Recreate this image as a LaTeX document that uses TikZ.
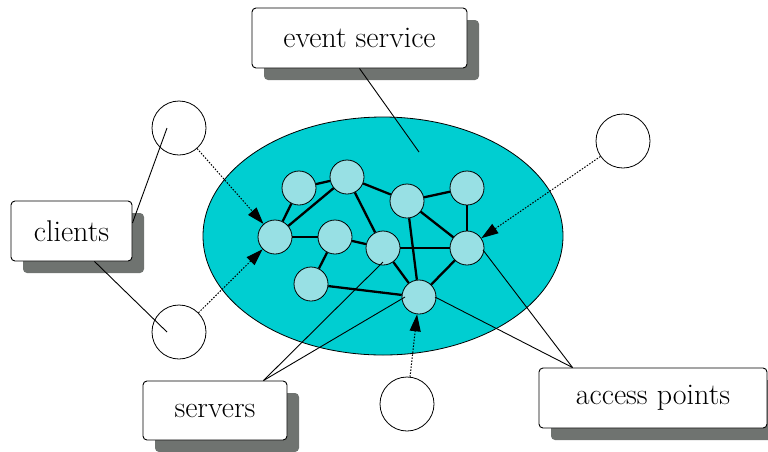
\documentclass[tikz,border=0pt]{standalone}
\usepackage{fontspec}
\usetikzlibrary{arrows.meta,shadows,calc,shapes.geometric}
\definecolor{ellfill}{RGB}{0,206,209}
\definecolor{nodefill}{RGB}{152,224,228}
\definecolor{shadowgray}{RGB}{111,115,112}
\pgfdeclarelayer{cloudlayer}
\pgfdeclarelayer{edgelayer}
\pgfsetlayers{cloudlayer,edgelayer,main}
\begin{document}
\begin{tikzpicture}[x=1pt,y=-1pt,
  sn/.style={circle, draw, line width=0.8pt, fill=nodefill, minimum size=34pt, inner sep=0pt},
  bigc/.style={circle, draw, line width=0.8pt, fill=white, minimum size=54pt, inner sep=0pt},
  lbl/.style={draw, rounded corners=4pt, fill=white, line width=0.9pt, inner sep=0pt,
    font=\fontsize{30}{34}\selectfont,
    drop shadow={shadow xshift=12pt, shadow yshift=-12pt, fill=shadowgray, opacity=1}},
  link/.style={line width=2.3pt},
  thinl/.style={line width=0.9pt},
  dotarrow/.style={line width=1pt, dash pattern=on 1.5pt off 1.5pt, -{Triangle[length=17pt,width=11pt]}}
]
\useasboundingbox (0,0) rectangle (768,451);
% cloud
\begin{pgfonlayer}{cloudlayer}
\node[ellipse, draw, line width=0.8pt, fill=ellfill, minimum width=360pt, minimum height=238pt, inner sep=0pt] (cloud) at (383,236) {};
\end{pgfonlayer}
% small nodes
\node[sn] (A) at (299,188) {};
\node[sn] (B) at (347,177) {};
\node[sn] (C) at (407,201) {};
\node[sn] (D) at (467,188) {};
\node[sn] (E) at (275,237) {};
\node[sn] (F) at (335,237) {};
\node[sn] (G) at (383,248) {};
\node[sn] (H) at (467,248) {};
\node[sn] (I) at (311,284) {};
\node[sn] (J) at (419,297) {};
% edges
\begin{pgfonlayer}{edgelayer}
\foreach \a/\b in {A/E,B/E,A/B,B/G,B/C,C/D,D/H,C/H,C/J,E/F,F/G,F/I,G/H,G/J,I/J,H/J}
  \draw[link] (\a) -- (\b);
\end{pgfonlayer}
% big white circles
\node[bigc] (c1) at (179,128) {};
\node[bigc] (c2) at (179,332) {};
\node[bigc] (c3) at (623,141) {};
\node[bigc] (c4) at (407,404) {};
% labels
\node[lbl, minimum width=215pt, minimum height=60pt] (es) at (359.5,38) {event service};
\node[lbl, minimum width=121pt, minimum height=60pt] (cl) at (71.5,231) {clients};
\node[lbl, minimum width=144pt, minimum height=59pt] (srv) at (215,410.5) {servers};
\node[lbl, minimum width=228pt, minimum height=60pt] (ap) at (653,398) {access points};
% free ends
\coordinate (esp) at (419,152);
\coordinate (c1p) at (167,128);
\coordinate (c2p) at (167,332);
\coordinate (gp) at (383,262);
\coordinate (jp1) at (405,297);
\coordinate (hp) at (483,250);
\coordinate (jp2) at (435,297);
% thin label lines
\draw[thinl] (es.south) -- (esp);
\draw[thinl] ($(cl.east)+(0,-8)$) -- (c1p);
\draw[thinl] ($(cl.south)+(23,0)$) -- (c2p);
\draw[thinl] ($(srv.north east)+(-24,0)$) -- (gp);
\draw[thinl] ($(srv.north east)+(-24,0)$) -- (jp1);
\draw[thinl] ($(ap.north west)+(34,0)$) -- (hp);
\draw[thinl] ($(ap.north west)+(34,0)$) -- (jp2);
% dotted arrows
\draw[dotarrow] (c1) -- (E);
\draw[dotarrow] (c2) -- (E);
\draw[dotarrow] (c3) -- (H);
\draw[dotarrow] (c4) -- (J);
\end{tikzpicture}
\end{document}
